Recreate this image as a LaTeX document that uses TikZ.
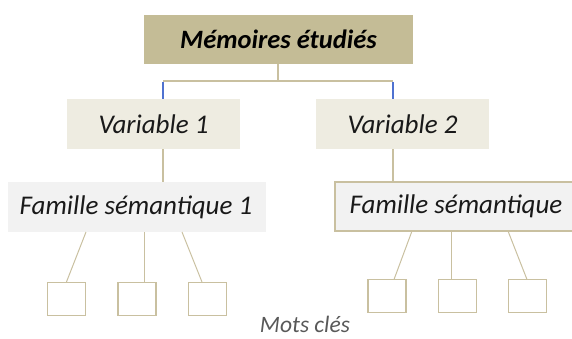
\documentclass[tikz,border=0pt]{standalone}
\usepackage{fontspec}
\setmainfont{Carlito}
\definecolor{tan}{HTML}{C4BC96}
\definecolor{tanline}{HTML}{C9C0A0}
\definecolor{varfill}{HTML}{EEECE1}
\definecolor{famfill}{HTML}{F2F2F2}
\definecolor{blueseg}{HTML}{4F72D0}
\definecolor{motgray}{HTML}{595959}
\begin{document}
\begin{tikzpicture}[x=1pt,y=-1pt,
  box/.style={inner sep=0pt, outer sep=0pt},
  conn/.style={draw=tanline, line width=1.6pt},
  leaf/.style={draw=tanline, line width=1.3pt, fill=white, minimum width=38pt, minimum height=33pt, inner sep=0pt},
  lbl/.style={font=\itshape\fontsize{27}{30}\selectfont, text=black!90}]
\useasboundingbox (0,0) rectangle (572,338);
% top
\fill[tan] (144,15) rectangle (413,64);
\node[box] (top) at (278.5,39.5) {};
\node[font=\bfseries\itshape\fontsize{26.5}{30}\selectfont] at (top) {Mémoires étudiés};
% variable boxes
\fill[varfill] (67,99) rectangle (240,149);
\node[box] (v1) at (153.5,124) {};
\node[lbl] at (v1) {Variable 1};
\fill[varfill] (316,99) rectangle (489,149);
\node[box] (v2) at (402.5,124) {};
\node[lbl] at (v2) {Variable 2};
% famille boxes
\fill[famfill] (8,182) rectangle (266,232);
\node[box] (f1) at (136,207) {};
\node[lbl] at (f1) {Famille sémantique 1};
\draw[tanline, line width=1.3pt, fill=famfill] (335,182) rectangle (576,231);
\node[box] (f2) at (456,206.5) {};
\node[lbl] at (f2) {Famille sémantique};
% connectors top
\coordinate (tb) at (278,64);
\coordinate (tj) at (278,81);
\coordinate (l1) at (163,81);
\coordinate (r1) at (393,81);
\coordinate (l2) at (163,99);
\coordinate (r2) at (393,99);
\draw[conn] (tb) -- (tj);
\draw[conn] (l1) -- (r1);
\draw[blueseg, line width=1.6pt] (l1) ++(0,1) -- (l2);
\draw[blueseg, line width=1.6pt] (r1) ++(0,1) -- (r2);
% variable -> famille
\coordinate (v1b) at (163,149);
\coordinate (f1t) at (163,182);
\coordinate (v2b) at (393,149);
\coordinate (f2t) at (393,182);
\draw[conn] (v1b) -- (f1t);
\draw[conn] (v2b) -- (f2t);
% leaves left
\node[leaf] (a1) at (66.5,299) {};
\node[leaf] (a2) at (137,299) {};
\node[leaf] (a3) at (207.5,299) {};
\draw[tanline, line width=1pt] (86,232) -- (a1.north);
\draw[tanline, line width=1pt] (144,232) -- (144,282);
\draw[tanline, line width=1pt] (182,232) -- (202,282);
% leaves right
\node[leaf] (b1) at (387,296) {};
\node[leaf] (b2) at (457.5,296) {};
\node[leaf] (b3) at (527.5,296) {};
\draw[tanline, line width=1pt] (412,231) -- (394,279.5);
\draw[tanline, line width=1pt] (451,231) -- (451,279.5);
\draw[tanline, line width=1pt] (508,231) -- (527,279.5);
% caption
\node[font=\itshape\fontsize{23.5}{26}\selectfont, text=motgray, inner sep=0pt, anchor=base] (mc) at (305,332) {Mots clés};
\end{tikzpicture}
\end{document}
